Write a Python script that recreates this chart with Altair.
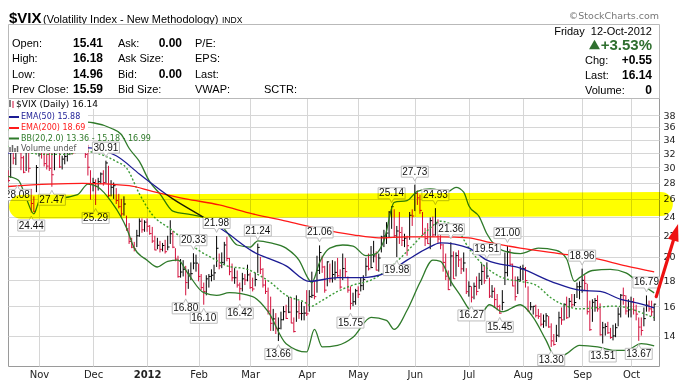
import altair as alt
import pandas as pd

# ---------------- daily $VIX bars, trading-day index 1..252 (14-Oct-2011 .. 12-Oct-2012) ----------------
HIGH = [
    29.6, 33.6, 34.5, 33.3, 34.8, 32.4, 31.6, 32.7, 32.9, 27.2,
    26.3, 30.3, 36.6, 34.6, 33.4, 31.9, 32.2, 32.9, 36.6, 36.9,
    33.5, 31.6, 32.6, 33.4, 35.4, 34.5, 35.6, 35.1, 35.3, 35.0,
    34.2, 33.2, 29.6, 28.6, 28.4, 28.6, 29.3, 29.6, 30.91, 30.2,
    28.3, 28.0, 27.3, 26.6, 26.0, 26.3, 24.1, 23.3, 21.8, 21.4,
    22.6, 23.8, 23.8, 23.6, 23.8, 23.1, 22.9, 22.0, 21.8, 21.5,
    21.3, 21.6, 22.0, 23.6, 22.5, 20.8, 20.1, 19.8, 19.7, 19.2,
    18.9, 19.5, 20.33, 20.2, 19.4, 18.5, 17.8, 18.4, 18.5, 18.9,
    19.3, 21.98, 20.3, 20.4, 21.4, 21.9, 19.9, 19.4, 19.0, 18.8,
    17.8, 18.6, 18.5, 19.3, 18.6, 18.2, 18.6, 21.24, 20.0, 19.0,
    18.0, 17.4, 16.7, 15.8, 15.5, 15.2, 15.6, 16.0, 16.1, 16.7,
    16.6, 15.2, 16.8, 16.4, 16.3, 16.0, 17.2, 17.2, 18.7, 17.9,
    20.1, 21.06, 20.1, 19.2, 19.6, 19.4, 19.7, 19.6, 19.9, 18.9,
    20.3, 19.9, 18.3, 17.5, 17.0, 17.3, 17.5, 18.2, 18.4, 19.9,
    20.3, 21.0, 21.5, 20.5, 20.3, 22.0, 22.6, 23.4, 24.6, 25.14,
    24.8, 23.0, 24.5, 22.9, 22.2, 22.0, 24.5, 24.8, 27.73, 27.0,
    26.5, 24.5, 22.8, 23.3, 23.9, 24.0, 24.93, 23.7, 22.1, 21.2,
    20.3, 18.8, 21.36, 20.5, 20.4, 20.6, 19.9, 20.4, 19.0, 17.9,
    17.5, 17.8, 18.3, 18.6, 19.4, 19.2, 19.51, 18.2, 17.6, 17.4,
    16.9, 16.1, 17.2, 20.4, 21.00, 20.7, 19.4, 18.3, 18.3, 19.2,
    19.3, 19.1, 17.5, 16.3, 16.0, 16.1, 15.8, 15.5, 15.4, 15.5,
    15.3, 14.8, 14.1, 14.7, 15.6, 15.9, 16.2, 16.7, 16.6, 16.9,
    16.9, 17.8, 17.9, 18.96, 18.4, 17.7, 16.4, 16.5, 16.6, 16.8,
    16.2, 14.9, 14.8, 14.9, 14.5, 14.7, 14.8, 15.9, 16.9, 17.4,
    16.8, 16.5, 16.7, 16.6, 16.1, 15.2, 15.2, 15.9, 16.79, 16.4,
    16.4, 16.18,
]
LOW = [
    28.08, 28.6, 30.4, 30.3, 32.0, 29.6, 29.2, 29.5, 29.3, 24.44,
    24.50, 26.8, 31.5, 31.2, 30.1, 29.7, 29.5, 27.47, 29.6, 33.0,
    29.9, 29.7, 30.4, 30.8, 31.7, 31.8, 33.1, 32.5, 33.0, 32.8,
    31.3, 28.9, 25.9, 26.9, 25.29, 27.0, 27.8, 27.6, 27.9, 26.2,
    26.3, 26.0, 25.4, 24.9, 24.0, 24.1, 22.5, 21.2, 20.8, 20.5,
    20.9, 21.9, 22.3, 22.4, 22.4, 22.1, 21.3, 20.6, 20.7, 20.4,
    20.5, 20.3, 20.6, 21.2, 20.8, 19.6, 18.2, 18.2, 18.3, 16.80,
    17.3, 18.0, 18.9, 18.7, 17.9, 17.2, 16.10, 16.8, 17.4, 17.9,
    18.0, 19.1, 18.9, 19.0, 19.3, 19.6, 18.4, 17.9, 17.7, 17.4,
    16.42, 17.1, 17.6, 17.9, 17.3, 17.1, 17.5, 18.6, 18.5, 17.4,
    16.9, 15.4, 14.3, 14.3, 14.1, 13.66, 14.4, 15.0, 15.1, 15.5,
    14.8, 14.2, 14.9, 15.1, 15.0, 15.0, 15.3, 15.6, 16.6, 16.5,
    17.0, 18.5, 18.6, 17.0, 17.5, 17.8, 17.8, 18.0, 18.2, 17.3,
    18.0, 18.2, 17.0, 15.75, 16.0, 16.1, 16.6, 17.1, 17.2, 18.3,
    18.8, 19.0, 19.5, 18.8, 18.7, 20.4, 20.9, 21.2, 21.8, 22.7,
    21.8, 19.98, 21.2, 21.0, 20.9, 20.1, 21.6, 23.0, 24.6, 25.3,
    24.3, 22.1, 21.0, 21.2, 20.7, 21.9, 22.0, 21.3, 20.7, 18.7,
    18.0, 17.2, 17.5, 18.1, 18.3, 19.1, 18.5, 18.7, 16.9, 16.7,
    16.27, 16.5, 16.8, 17.3, 17.6, 17.7, 18.1, 16.6, 16.6, 15.9,
    15.7, 15.45, 15.7, 17.6, 18.3, 19.2, 17.5, 16.4, 16.9, 17.9,
    18.0, 17.4, 15.6, 15.7, 15.4, 15.2, 15.1, 14.6, 14.5, 14.6,
    14.5, 13.30, 13.38, 13.6, 13.9, 14.7, 15.0, 15.1, 15.2, 15.9,
    16.0, 16.6, 16.5, 17.0, 17.2, 15.4, 14.3, 14.9, 15.6, 15.6,
    14.0, 13.51, 14.0, 14.1, 13.8, 13.7, 13.9, 14.6, 15.2, 16.1,
    15.4, 15.2, 15.2, 15.4, 15.0, 13.67, 14.0, 14.6, 15.6, 15.6,
    15.3, 14.96,
]
CLOSE = [
    28.24, 33.39, 31.26, 32.90, 32.60, 31.32, 29.33, 32.22, 29.86, 25.46,
    24.53, 29.96, 34.77, 32.74, 30.50, 30.16, 29.85, 29.00, 36.16, 34.31,
    30.04, 31.13, 31.50, 32.91, 34.51, 32.00, 34.20, 33.20, 34.90, 34.47,
    31.80, 30.00, 27.80, 28.00, 27.52, 28.10, 29.10, 28.00, 30.59, 26.38,
    27.40, 27.60, 25.80, 25.10, 24.29, 25.40, 22.70, 21.43, 20.89, 20.73,
    22.00, 23.50, 22.60, 23.40, 22.97, 22.22, 21.48, 20.63, 21.07, 20.69,
    21.05, 20.47, 20.91, 22.20, 20.89, 19.80, 18.28, 18.67, 18.90, 17.80,
    18.50, 18.53, 19.44, 19.44, 18.30, 17.40, 17.10, 18.10, 18.30, 18.40,
    18.60, 20.79, 19.20, 19.50, 21.10, 19.85, 18.70, 18.19, 18.19, 17.60,
    17.31, 18.10, 18.00, 18.43, 17.40, 17.29, 18.05, 20.87, 18.90, 17.60,
    17.10, 15.64, 14.80, 15.10, 14.47, 14.47, 15.04, 15.60, 15.13, 15.57,
    14.82, 14.26, 15.59, 15.47, 15.48, 15.50, 15.45, 16.70, 16.80, 16.70,
    18.81, 20.39, 19.10, 17.20, 19.55, 18.10, 18.46, 18.64, 18.36, 17.44,
    18.97, 18.70, 17.20, 16.20, 16.32, 17.15, 16.88, 17.55, 18.06, 19.16,
    18.94, 19.05, 20.08, 18.83, 19.89, 21.87, 21.97, 22.27, 24.49, 25.10,
    22.01, 22.48, 22.33, 21.54, 21.76, 21.03, 24.14, 24.06, 26.66, 26.12,
    24.68, 22.16, 21.72, 21.23, 23.56, 22.09, 23.22, 21.68, 21.11, 19.50,
    18.32, 17.24, 20.08, 18.11, 20.11, 19.72, 18.94, 19.45, 17.08, 17.50,
    16.66, 17.50, 17.10, 17.98, 18.72, 17.95, 18.33, 16.74, 17.11, 16.48,
    15.98, 15.50, 16.27, 18.62, 20.47, 19.34, 17.53, 16.70, 18.03, 18.93,
    18.96, 17.96, 15.64, 15.95, 15.99, 15.32, 15.28, 14.74, 14.95, 15.31,
    14.56, 13.67, 13.45, 14.02, 15.18, 15.03, 16.13, 15.18, 16.35, 16.10,
    16.26, 17.46, 17.47, 17.98, 17.74, 15.60, 14.38, 16.28, 16.41, 15.80,
    14.05, 14.51, 14.59, 14.18, 13.88, 13.98, 14.51, 15.43, 16.81, 16.78,
    15.65, 15.73, 16.32, 15.71, 15.43, 14.55, 14.33, 15.12, 16.07, 15.80,
    15.59, 16.14,
]

# month boundaries (trading-day index) and their labels
MONTH_IDX = [13, 34, 55, 75, 95, 117, 137, 159, 180, 201, 224, 243]
MONTH_LBL = ["Nov", "Dec", "2012", "Feb", "Mar", "Apr", "May", "Jun", "Jul", "Aug", "Sep", "Oct"]
Y_TICKS = [14, 16, 18, 20, 22, 24, 26, 28, 30, 32, 34, 36, 38]

# overlays (index, value)
EMA50_I = [1, 20, 31, 43, 52, 65, 77, 86, 96, 109, 118, 129, 138, 148, 156, 164, 169, 180, 187, 200, 213, 223, 231, 239, 246, 252]
EMA50_V = [32.0, 32.6, 32.8, 31.6, 29.1, 26.0, 23.9, 22.3, 20.5, 19.2, 17.9, 18.2, 18.2, 18.6, 19.7, 20.8, 21.3, 20.8, 19.7, 19.0, 17.8, 17.2, 17.1, 16.5, 16.2, 15.88]
EMA200_I = [1, 17, 30, 48, 57, 70, 83, 96, 109, 122, 135, 145, 156, 169, 180, 187, 200, 215, 228, 241, 252]
EMA200_V = [27.5, 27.8, 27.9, 27.6, 26.9, 26.0, 25.3, 24.3, 23.5, 22.7, 22.1, 21.8, 21.9, 21.9, 21.8, 21.4, 20.8, 20.3, 19.9, 19.2, 18.69]
BBU_I = [1, 15, 25, 34, 41, 45, 48, 52, 56, 60, 65, 72, 77, 85, 90, 95, 98, 103, 109, 114,
         118, 119, 122, 126, 131, 135, 140, 144, 147, 151, 156, 160, 165, 172, 175, 178, 180, 184, 187, 193,
         200, 207, 214, 218, 221, 223, 228, 235, 241, 246, 252]
BBU_V = [35.5, 37.5, 37.0, 36.7, 35.8, 34.8, 32.7, 30.8, 28.1, 26.6, 24.6, 24.2, 23.9, 22.7, 21.1, 20.9, 21.5, 21.3, 20.8, 19.7,
         18.0, 17.8, 19.5, 20.8, 21.1, 21.0, 20.1, 20.3, 21.5, 25.6, 25.8, 26.9, 27.2, 26.9, 27.4, 26.8, 25.2, 24.0, 22.2, 20.6,
         20.3, 20.8, 20.6, 19.8, 17.9, 18.2, 18.8, 18.9, 18.6, 17.8, 16.99]
BBM_I = [1, 15, 24, 30, 37, 43, 47, 52, 57, 64, 70, 75, 81, 86, 94, 96, 103, 109, 116, 119,
         122, 129, 135, 142, 148, 156, 161, 165, 169, 175, 180, 187, 193, 200, 206, 212, 218, 223, 230, 236,
         241, 246, 252]
BBM_V = [33.0, 31.8, 31.8, 32.3, 31.8, 30.8, 29.9, 26.6, 24.2, 22.7, 21.5, 20.6, 19.8, 19.2, 18.9, 18.7, 17.8, 16.8, 16.3, 16.0,
         16.3, 17.1, 17.6, 18.0, 18.8, 20.5, 21.8, 22.8, 23.5, 22.8, 20.8, 19.0, 18.2, 17.9, 17.6, 16.6, 16.0, 15.8, 15.9, 16.0,
         15.9, 15.6, 15.18]
BBL_I = [1, 5, 8, 11, 13, 16, 21, 28, 32, 36, 41, 45, 47, 50, 55, 59, 63, 67, 71, 77,
         82, 87, 96, 102, 109, 117, 120, 123, 129, 135, 142, 148, 151, 156, 161, 166, 169, 173, 177, 180,
         184, 188, 193, 200, 205, 210, 214, 218, 223, 230, 236, 241, 247, 252]
BBL_V = [28.8, 28.3, 26.1, 24.3, 25.7, 26.3, 26.1, 26.5, 27.8, 27.4, 25.7, 23.9, 22.8, 20.8, 19.7, 19.1, 19.6, 19.7, 18.5, 17.0,
         16.8, 17.0, 16.7, 15.6, 13.5, 13.0, 14.4, 13.3, 13.4, 13.9, 15.2, 15.0, 14.4, 15.7, 17.8, 19.7, 19.6, 17.9, 16.7, 15.8,
         15.3, 16.1, 15.6, 16.1, 15.2, 13.7, 12.6, 12.9, 13.4, 13.3, 13.1, 13.1, 13.5, 13.36]

# annotated highs (H) and lows (L); first label sits at the left edge of the plot
LABEL_IDX = [4.6, 10, 18, 35, 39, 70, 73, 77, 82, 91, 98, 106, 122, 134, 150, 152, 159, 167, 173, 181, 187, 192, 195, 212, 224, 232, 246, 249]
LABEL_VAL = [28.08, 24.44, 27.47, 25.29, 30.91, 16.80, 20.33, 16.10, 21.98, 16.42, 21.24, 13.66, 21.06, 15.75, 25.14, 19.98, 27.73, 24.93, 21.36, 16.27, 19.51, 15.45, 21.00, 13.30, 18.96, 13.51, 13.67, 16.79]
LABEL_KIND = ["L", "L", "L", "L", "H", "L", "H", "L", "H", "L", "H", "L", "H", "L", "H", "L", "H", "H", "H", "L", "H", "L", "H", "L", "H", "L", "L", "H"]

# hand-drawn highlight band and arrow (index, value)
HILITE_I = [6.0, 254.6]
HILITE_V = [25.1, 25.4]
ARROW_I = [252.8, 260.0]
ARROW_V = [16.7, 22.0]
ARROW_HEAD = (260.17, 22.21)

# quote header
QUOTE_L = ["Open:", "High:", "Low:", "Prev Close:"]
QUOTE_LV = ["15.41", "16.18", "14.96", "15.59"]
QUOTE_M = ["Ask:", "Ask Size:", "Bid:", "Bid Size:"]
QUOTE_MV = ["0.00", "", "0.00", ""]
QUOTE_R = ["P/E:", "EPS:", "Last:", "VWAP:"]
RIGHT_L = ["Chg:", "Last:", "Volume:"]
RIGHT_V = ["+0.55", "16.14", "0"]
LEGEND = ["$VIX (Daily) 16.14", "EMA(50) 15.88", "EMA(200) 18.69", "BB(20,2.0) 13.36 - 15.18 - 16.99", "Volume undef"]

# ---------------- styling ----------------
W, H = 651, 268
XS = alt.Scale(domain=[0.957, 253.87], nice=False, zero=False)
YS = alt.Scale(type="log", domain=[12.20, 41.05], nice=False)
C_UP, C_DOWN = "#000000", "#d3103c"
C_EMA50, C_EMA200, C_BB, C_BBM = "#1c1c94", "#ff1a1a", "#2f7a2a", "#3b9a36"
HF = "Liberation Sans"
GRID = "#d6d6d6"
ONE = pd.DataFrame({"k": [0]})


def px(x):
    return x - 8


def py(y):
    return y - 98


label_expr = "[" + ",".join("'%s'" % s for s in MONTH_LBL) + "][indexof([" + ",".join(str(v) for v in MONTH_IDX) + "], datum.value)]"
XAXIS = alt.Axis(values=MONTH_IDX, labelExpr=label_expr, grid=True, gridColor=GRID, domain=False, ticks=False,
                 tickSize=0, labelPadding=3, labelFont="DejaVu Sans", labelFontSize=10, labelColor="#222",
                 labelFontWeight={"condition": {"test": "datum.value == 55", "value": "bold"}, "value": "normal"},
                 title=None)
YAXIS = alt.Axis(orient="right", values=Y_TICKS, grid=True, gridColor=GRID, domain=False, ticks=False, tickSize=0,
                 labelPadding=4, labelFont="DejaVu Sans", labelFontSize=9.5, labelColor="#222", title=None)


def XE(field):
    return alt.X(field, type="quantitative", scale=XS, axis=XAXIS)


def YE(field):
    return alt.Y(field, type="quantitative", scale=YS, axis=YAXIS)


bars = pd.DataFrame({"i": list(range(1, len(CLOSE) + 1)), "high": HIGH, "low": LOW, "close": CLOSE})
bars["move"] = ["down"] + ["up" if c >= p else "down" for p, c in zip(CLOSE[:-1], CLOSE[1:])]
bars["i2"] = bars["i"] + 0.75
COLOR = alt.Color("move:N", scale=alt.Scale(domain=["up", "down"], range=[C_UP, C_DOWN]), legend=None)

layers = []
layers.append(alt.Chart(bars).mark_rule(strokeWidth=1).encode(x=XE("i"), y=YE("low"), y2="high:Q", color=COLOR))
layers.append(alt.Chart(bars).mark_rule(strokeWidth=1).encode(x=XE("i"), x2="i2:Q", y=YE("close"), color=COLOR))


def line_layer(ii, vv, color, dash=None, width=1.3):
    df = pd.DataFrame({"i": ii, "v": vv})
    kw = dict(interpolate="monotone", strokeWidth=width, color=color)
    if dash:
        kw["strokeDash"] = dash
    return alt.Chart(df).mark_line(**kw).encode(x=XE("i"), y=YE("v"))


layers.append(line_layer(BBU_I, BBU_V, C_BB))
layers.append(line_layer(BBL_I, BBL_V, C_BB))
layers.append(line_layer(BBM_I, BBM_V, C_BBM, dash=[2, 2], width=1.4))
layers.append(line_layer(EMA200_I, EMA200_V, C_EMA200))
layers.append(line_layer(EMA50_I, EMA50_V, C_EMA50))

# price labels
lab = pd.DataFrame({"i": LABEL_IDX, "v": LABEL_VAL, "kind": LABEL_KIND})
PATH_H = "M-1,-0.41L1,-0.41L1,0.41L0.15,0.41L0,0.7L-0.15,0.41L-1,0.41Z"
PATH_L = "M-1,0.41L1,0.41L1,-0.41L0.15,-0.41L0,-0.7L-0.15,-0.41L-1,-0.41Z"
for kind, path, off in [("H", PATH_H, -13), ("L", PATH_L, 13)]:
    sub = lab[lab["kind"] == kind]
    layers.append(alt.Chart(sub).mark_point(shape=path, size=729, filled=True, fill="white", stroke="#bdbdbd",
                                            strokeWidth=1, opacity=1, yOffset=off).encode(x=XE("i"), y=YE("v")))
    layers.append(alt.Chart(sub).mark_text(font=HF, fontSize=10, color="#111", baseline="middle", align="center",
                                           yOffset=off).encode(x=XE("i"), y=YE("v"),
                                                               text=alt.Text("v:Q", format=".2f")))

# yellow highlighter band
hl = pd.DataFrame({"i": [HILITE_I[0]], "i2": [HILITE_I[1]], "v": [HILITE_V[0]], "v2": [HILITE_V[1]]})
layers.append(alt.Chart(hl).mark_rule(color="#ffff00", strokeWidth=24, strokeCap="round", blend="multiply").encode(
    x=XE("i"), x2="i2:Q", y=YE("v"), y2="v2:Q"))

# red arrow
ar = pd.DataFrame({"i": [ARROW_I[0]], "i2": [ARROW_I[1]], "v": [ARROW_V[0]], "v2": [ARROW_V[1]]})
layers.append(alt.Chart(ar).mark_rule(color="#ee1111", strokeWidth=3.2, strokeCap="round").encode(
    x=XE("i"), x2="i2:Q", y=YE("v"), y2="v2:Q"))
ah = pd.DataFrame({"i": [ARROW_HEAD[0]], "v": [ARROW_HEAD[1]]})
layers.append(alt.Chart(ah).mark_point(shape="M0,-1L0.55,0.7L-0.55,0.7Z", size=400, filled=True, color="#ee1111",
                                       opacity=1, angle=16.5).encode(x=XE("i"), y=YE("v")))


def rect_px(x1, x2, y1, y2, fill="white", stroke=None):
    kw = dict(fill=fill)
    if stroke:
        kw["stroke"] = stroke
        kw["strokeWidth"] = 1
    return alt.Chart(ONE).mark_rect(**kw).encode(
        x=alt.value(px(x1)), x2=alt.value(px(x2)), y=alt.value(py(y1)), y2=alt.value(py(y2)))


def rule_px(x1, x2, y1, y2, color, width=1):
    return alt.Chart(ONE).mark_rule(color=color, strokeWidth=width).encode(
        x=alt.value(px(x1)), x2=alt.value(px(x2)), y=alt.value(py(y1)), y2=alt.value(py(y2)))


def text_px(s, x, y, size=11, weight="normal", align="left", color="#000", font=HF, baseline="alphabetic"):
    return alt.Chart(ONE).mark_text(text=s, fontSize=size, fontWeight=weight, align=align, color=color, font=font,
                                    baseline=baseline).encode(x=alt.value(px(x)), y=alt.value(py(y)))


# legend block inside plot
layers.append(rect_px(8.5, 88, 98.5, 153))
layers.append(rect_px(8.5, 113, 98.5, 109))
layers.append(rule_px(10, 10, 100, 107, C_UP))
layers.append(rule_px(13, 13, 101, 108, C_DOWN))
layers.append(text_px(LEGEND[0], 16, 103.5, size=9, font="DejaVu Sans", baseline="middle"))
leg_rows = [(117, C_EMA50, LEGEND[1]), (128, C_EMA200, LEGEND[2]), (138.5, C_BB, LEGEND[3])]
for yy, col, s in leg_rows:
    layers.append(rule_px(9, 19, yy, yy, col, width=2))
    layers.append(text_px(s, 21, yy, size=8, font="DejaVu Sans", color=col, baseline="middle"))
for xx, top in [(10, 147), (12.5, 145), (15, 148), (17.5, 146)]:
    layers.append(rule_px(xx, xx, top, 152, "#666666", width=1.5))
layers.append(text_px(LEGEND[4], 21, 148.5, size=8, font="DejaVu Sans", color="#555555", baseline="middle"))

# header
layers.append(text_px("$VIX", 9, 22.5, size=15, weight="bold"))
layers.append(text_px("(Volatility Index - New Methodology)", 43, 22.5, size=11))
layers.append(text_px("INDX", 222, 22.5, size=8.5))
layers.append(text_px("\u00a9StockCharts.com", 659, 19, size=9.5, align="right", color="#777777", font="DejaVu Sans"))
layers.append(rect_px(8.5, 659.5, 24.5, 98.5, fill="transparent", stroke="#b9b9b9"))
ROWS = [47, 62, 78, 93]
for k, yy in enumerate(ROWS):
    layers.append(text_px(QUOTE_L[k], 12, yy))
    layers.append(text_px(QUOTE_LV[k], 103, yy, size=12, weight="bold", align="right"))
    layers.append(text_px(QUOTE_M[k], 118, yy))
    if QUOTE_MV[k]:
        layers.append(text_px(QUOTE_MV[k], 182, yy, size=12, weight="bold", align="right"))
    layers.append(text_px(QUOTE_R[k], 195, yy))
layers.append(text_px("SCTR:", 264, 93))
layers.append(text_px("Friday\u00a0\u00a012-Oct-2012", 652, 35, align="right"))
layers.append(alt.Chart(ONE).mark_point(shape="triangle-up", filled=True, size=120, color="#2f6f2f", opacity=1).encode(
    x=alt.value(px(594.5)), y=alt.value(py(44.5))))
layers.append(text_px("+3.53%", 652, 50, size=15, weight="bold", align="right", color="#2f6f2f"))
for k, yy in enumerate([64, 79, 94]):
    layers.append(text_px(RIGHT_L[k], 585, yy))
    layers.append(text_px(RIGHT_V[k], 652, yy, size=12, weight="bold", align="right"))

chart = alt.layer(*layers).properties(
    width=W, height=H,
    padding={"left": 0, "top": 90, "right": 22, "bottom": 14},
    autosize=alt.AutoSizeParams(type="none"),
    background="white",
).configure_view(stroke="#9a9a9a", strokeWidth=1)

chart.save("out.html", embed_options={"renderer": "svg", "actions": False})
